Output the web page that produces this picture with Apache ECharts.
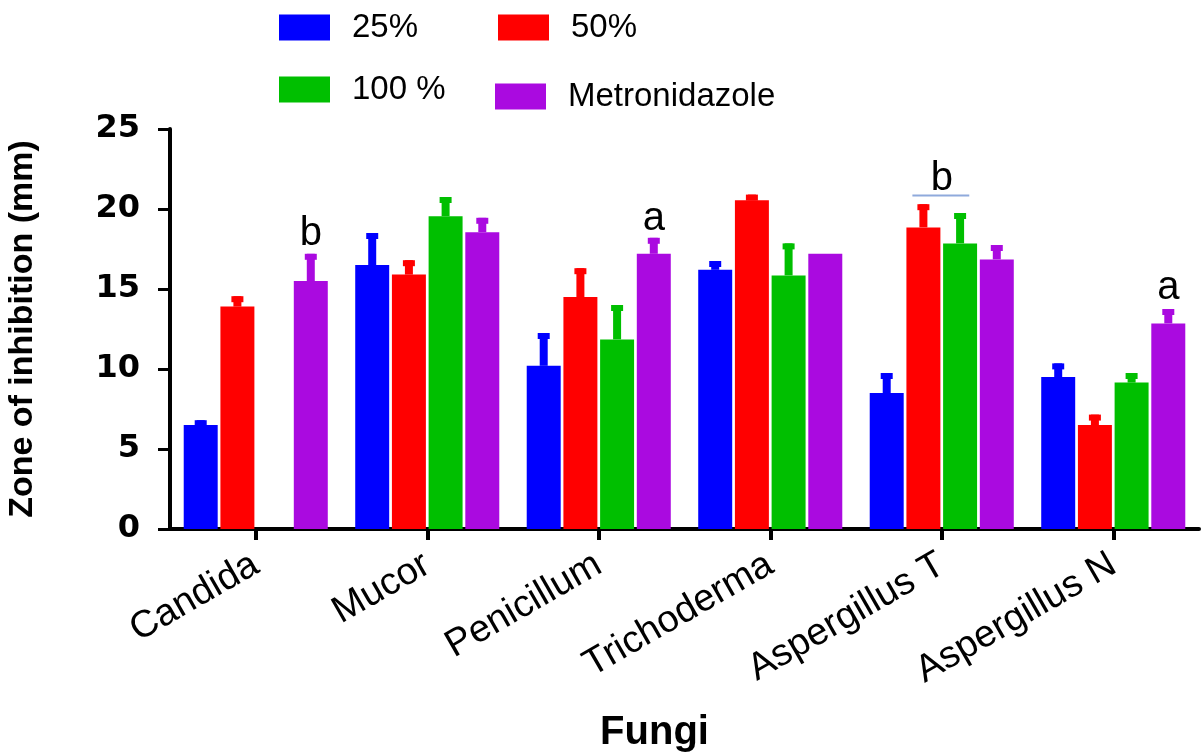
<!DOCTYPE html>
<html>
<head>
<meta charset="utf-8">
<script src="https://cdn.jsdelivr.net/npm/echarts@6/dist/echarts.min.js"></script>
<style>
html,body{margin:0;padding:0;background:#fff;}
#chart{width:1202px;height:752px;}
</style>
</head>
<body>
<div id="chart"></div>
<script>
const categories = ['Candida', 'Mucor', 'Penicillum', 'Trichoderma', 'Aspergillus T', 'Aspergillus N'];
const seriesNames = ['25%', '50%', '100 %', 'Metronidazole'];
const v25  = [6.5, 16.5, 10.2, 16.2, 8.5, 9.5];
const v50  = [13.9, 15.9, 14.5, 20.55, 18.85, 6.5];
const v100 = [0, 19.55, 11.85, 15.85, 17.85, 9.15];
const vMet = [15.5, 18.55, 17.2, 17.2, 16.85, 12.85];
const err25  = [0.3, 2.0, 2.05, 0.55, 1.25, 0.85];
const err50  = [0.65, 0.9, 1.8, 0.35, 1.45, 0.65];
const err100 = [0, 1.2, 2.15, 2.0, 1.9, 0.6];
const errMet = [1.7, 0.9, 1.0, 0, 0.9, 0.9];
const yTicks = [0, 5, 10, 15, 20, 25];
// annotation letters: category, bar position, y level, text, optional underline span (bar positions)
const annotations = [
  {cat: 0, pos: 3, y: 17.2, text: 'b'},
  {cat: 2, pos: 3, y: 18.1, text: 'a'},
  {cat: 4, pos: 1.5, y: 20.6, text: 'b', line: [0.7, 2.25], lineY: 20.85},
  {cat: 5, pos: 3, y: 13.8, text: 'a'}
];

const colors = ['#0000FF', '#FF0000', '#00BF00', '#AA0AE0'];
const values = [v25, v50, v100, vMet];
const errors = [err25, err50, err100, errMet];
const CAT_GAP = 0.16, BAR_GAP = 0.08, N = 4;

function barGeom(api, pos) {
  const band = api.size([1, 0])[0];
  const usable = band * (1 - CAT_GAP);
  const bw = usable / (N + (N - 1) * BAR_GAP);
  return -usable / 2 + bw / 2 + pos * bw * (1 + BAR_GAP);
}

const errData = [];
for (let s = 0; s < N; s++) {
  for (let c = 0; c < categories.length; c++) {
    errData.push([c, s, values[s][c], errors[s][c]]);
  }
}

const barSeries = seriesNames.map((name, i) => ({
  name: name,
  type: 'bar',
  data: values[i],
  barGap: (BAR_GAP * 100) + '%',
  barCategoryGap: (CAT_GAP * 100) + '%',
  itemStyle: {color: colors[i]},
  z: 2
}));

const errSeries = {
  type: 'custom',
  z: 1,
  data: errData,
  encode: {x: 0, y: 2},
  renderItem: function (params, api) {
    const c = api.value(0), s = api.value(1), v = api.value(2), e = api.value(3);
    if (!e) return null;
    const off = barGeom(api, s);
    const b = api.coord([c, v]);
    const t = api.coord([c, v + e]);
    const x = b[0] + off;
    return {
      type: 'group',
      children: [
        {type: 'rect', shape: {x: x - 4, y: t[1], width: 8, height: b[1] - t[1]}, style: {fill: colors[s]}},
        {type: 'rect', shape: {x: x - 6, y: t[1], width: 12, height: 6}, style: {fill: colors[s]}}
      ]
    };
  }
};

const annSeries = {
  type: 'custom',
  z: 3,
  data: annotations.map(a => [a.cat, a.y]),
  encode: {x: 0, y: 1},
  renderItem: function (params, api) {
    const a = annotations[params.dataIndex];
    const p = api.coord([a.cat, a.y]);
    const children = [{
      type: 'text',
      style: {
        x: p[0] + barGeom(api, a.pos), y: p[1], text: a.text,
        fontSize: 40, fontFamily: 'Liberation Sans, Arial, sans-serif',
        fill: '#000', align: 'center', verticalAlign: 'bottom'
      }
    }];
    if (a.line) {
      const ly = api.coord([a.cat, a.lineY])[1];
      children.push({
        type: 'line',
        shape: {x1: p[0] + barGeom(api, a.line[0]), y1: ly, x2: p[0] + barGeom(api, a.line[1]), y2: ly},
        style: {stroke: '#8FAADC', lineWidth: 2}
      });
    }
    return {type: 'group', children: children};
  }
};

function legendAt(name, left, top) {
  return {
    data: [name], left: left, top: top, padding: 0,
    itemWidth: 51, itemHeight: 26, icon: 'rect',
    textStyle: {fontSize: 33, fontFamily: 'Liberation Sans, Arial, sans-serif', color: '#000', padding: [0, 0, 0, 17]}
  };
}

const chart = echarts.init(document.getElementById('chart'));
chart.setOption({
  animation: false,
  backgroundColor: '#fff',
  legend: [
    legendAt(seriesNames[0], 279, 11),
    legendAt(seriesNames[1], 498, 11),
    legendAt(seriesNames[2], 279, 73),
    legendAt(seriesNames[3], 495, 80)
  ],
  grid: {left: 170, right: 3, top: 129, bottom: 223, containLabel: false, outerBoundsMode: 'none'},
  xAxis: {
    type: 'category',
    data: categories,
    name: 'Fungi',
    nameLocation: 'middle',
    nameGap: 184,
    nameTextStyle: {fontSize: 40, fontWeight: 'bold', fontFamily: 'Liberation Sans, Arial, sans-serif', color: '#000', padding: [0, 60, 0, 0]},
    axisLine: {lineStyle: {color: '#000', width: 4}},
    axisTick: {show: true, alignWithLabel: true, length: 11, lineStyle: {color: '#000', width: 4}},
    axisLabel: {
      rotate: 30, margin: 33, fontSize: 38, color: '#000',
      fontFamily: 'Liberation Sans, Arial, sans-serif', interval: 0
    }
  },
  yAxis: {
    type: 'value',
    min: 0, max: 25, interval: 5,
    name: 'Zone of inhibition (mm)',
    nameLocation: 'middle',
    nameGap: 130,
    nameTextStyle: {fontSize: 34, fontWeight: 'bold', fontFamily: 'Liberation Sans, Arial, sans-serif', color: '#000'},
    axisLine: {show: true, lineStyle: {color: '#000', width: 4}},
    axisTick: {show: true, length: 12, lineStyle: {color: '#000', width: 3}},
    splitLine: {show: false},
    axisLabel: {
      margin: 30, fontSize: 32, fontWeight: 'bold', color: '#000',
      fontFamily: 'DejaVu Sans, sans-serif',
      formatter: function (v) { return yTicks.indexOf(v) >= 0 ? String(v) : ''; }
    }
  },
  series: barSeries.concat([errSeries, annSeries])
});
</script>
</body>
</html>
